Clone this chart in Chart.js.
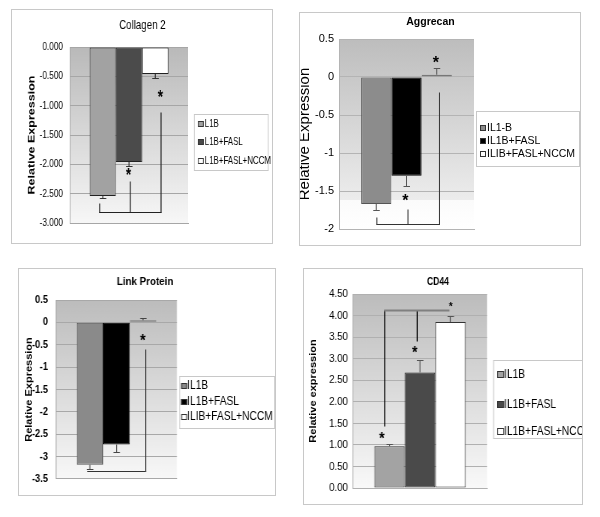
<!DOCTYPE html>
<html lang="en">
<head>
    <meta charset="UTF-8">
    <title>Relative Expression Panels</title>
    <script src="https://cdn.jsdelivr.net/npm/chart.js"></script>
    <style>
        body {
            margin: 0;
            background: #fff;
        }
        #page {
            position: relative;
            width: 600px;
            height: 517px;
        }
        .panel {
            position: absolute;
            box-sizing: border-box;
            border: 1px solid #c8c8c8;
            background: #fff;
            overflow: hidden;
        }
        .panel canvas {
            display: block;
            transform-origin: 0 0;
        }
    </style>
</head>
<body>
<div id="page">
    <div class="panel" style="left:11px; top:9px; width:262px; height:235px;"><canvas id="collagen"></canvas></div>
    <div class="panel" style="left:299px; top:12px; width:282px; height:234px;"><canvas id="aggrecan"></canvas></div>
    <div class="panel" style="left:18px; top:268px; width:258px; height:228px;"><canvas id="link"></canvas></div>
    <div class="panel" style="left:303px; top:268px; width:280px; height:237px;"><canvas id="cd44"></canvas></div>
</div>

<script>
    // Collagen 2
    const colLabels = ['L1B', 'L1B+FASL', 'L1B+FASL+NCCM'];
    const colValues = [-2.54, -1.96, -0.46];
    const colErrors = [0.04, 0.07, 0.07];
    const colTicks = [0, -0.5, -1, -1.5, -2, -2.5, -3];

    // Aggrecan
    const aggLabels = ['IL1-B', 'IL1B+FASL', 'ILIB+FASL+NCCM'];
    const aggValues = [-1.67, -1.30, 0.03];
    const aggErrors = [0.08, 0.13, 0.09];
    const aggTicks = [0.5, 0, -0.5, -1, -1.5, -2];

    // Link Protein
    const linkLabels = ['IL1B', 'IL1B+FASL', 'ILIB+FASL+NCCM'];
    const linkValues = [-3.18, -2.73, 0.05];
    const linkErrors = [0.10, 0.17, 0.04];
    const linkTicks = [0.5, 0, -0.5, -1, -1.5, -2, -2.5, -3, -3.5];

    // CD44
    const cdLabels = ['IL1B', 'IL1B+FASL', 'IL1B+FASL+NCCM'];
    const cdValues = [0.97, 2.68, 3.85];
    const cdErrors = [0.05, 0.28, 0.15];
    const cdTicks = [0, 0.5, 1, 1.5, 2, 2.5, 3, 3.5, 4, 4.5];

    const ARIAL = "'Liberation Sans', Arial, sans-serif";

    Chart.defaults.color = '#000';

    // gradient plot area, error bars, significance brackets, title and legend box
    // p.sx squeezes the panel sideways like the source figure; x sizes below are in screen px
    function decor(p) {
        const X = v => v / p.sx;
        return {
            id: 'decor',
            beforeDraw(chart) {
                const {ctx, chartArea: a} = chart;
                const g = ctx.createLinearGradient(0, a.top, 0, a.bottom);
                p.bg.forEach(s => g.addColorStop(s[0], s[1]));
                ctx.save();
                ctx.fillStyle = g;
                ctx.fillRect(a.left, a.top, a.right - a.left, a.bottom - a.top);
                ctx.restore();
            },
            afterDatasetsDraw(chart) {
                const ctx = chart.ctx;
                const y = chart.scales.y;
                const bars = chart.data.datasets.map((d, i) => chart.getDatasetMeta(i).data[0]);
                const w = bars[0].width;
                const x0 = bars[0].x - w / 2;
                const ux = u => x0 + u * w;
                const py = v => Math.round(y.getPixelForValue(v)) + 0.5;

                ctx.save();
                // error bars
                ctx.strokeStyle = p.errColor;
                bars.forEach((b, i) => {
                    const v = p.values[i];
                    const end = v < 0 ? v - p.errors[i] : v + p.errors[i];
                    ctx.lineWidth = X(1);
                    ctx.beginPath();
                    ctx.moveTo(b.x, y.getPixelForValue(v));
                    ctx.lineTo(b.x, py(end));
                    ctx.stroke();
                    ctx.lineWidth = 1;
                    ctx.beginPath();
                    ctx.moveTo(b.x - X(3), py(end));
                    ctx.lineTo(b.x + X(3.5), py(end));
                    ctx.stroke();
                });

                // significance bracket
                const br = p.bracket;
                ctx.strokeStyle = br.legColor;
                ctx.lineWidth = X(1);
                br.legs.forEach(l => {
                    ctx.beginPath();
                    ctx.moveTo(ux(l[0]), py(br.y));
                    ctx.lineTo(ux(l[0]), py(l[1]));
                    ctx.stroke();
                });
                ctx.strokeStyle = br.color;
                ctx.lineWidth = br.width;
                ctx.beginPath();
                ctx.moveTo(ux(br.from) - X(0.5), py(br.y));
                ctx.lineTo(ux(br.to) + X(0.5), py(br.y));
                ctx.stroke();

                ctx.fillStyle = '#000';
                ctx.textAlign = 'center';
                ctx.textBaseline = 'alphabetic';
                p.stars.forEach(s => {
                    ctx.font = 'bold ' + s[2] + 'px ' + ARIAL;
                    ctx.fillText('*', ux(s[0]), y.getPixelForValue(s[1]) + 0.575 * s[2]);
                });
                ctx.restore();
            },
            afterDraw(chart) {
                const ctx = chart.ctx;
                const L = p.legend;
                ctx.save();
                ctx.fillStyle = '#000';
                ctx.font = p.titleFont;
                ctx.textAlign = 'center';
                ctx.textBaseline = 'middle';
                ctx.fillText(p.title, X(p.titlePos[0]), p.titlePos[1]);

                ctx.strokeStyle = '#c8c8c8';
                ctx.lineWidth = 1;
                ctx.strokeRect(X(L.x + 0.5), L.y + 0.5, X(L.w), L.h);
                ctx.font = L.font;
                ctx.textAlign = 'left';
                p.labels.forEach((t, i) => {
                    const yy = Math.round(L.items[i]);
                    const top = yy - Math.round(L.size / 2);
                    ctx.fillStyle = p.colors[i];
                    ctx.fillRect(X(L.sx), top, X(L.size), L.size);
                    ctx.strokeStyle = '#333';
                    ctx.lineWidth = 1;
                    ctx.strokeRect(X(L.sx + 0.5), top + 0.5, X(L.size - 1), L.size - 1);
                    ctx.fillStyle = '#000';
                    ctx.fillText(t, X(L.tx), yy);
                });
                ctx.restore();
            }
        };
    }

    function drawPanel(id, p) {
        const X = v => v / p.sx;
        const canvas = document.getElementById(id);
        canvas.width = Math.round(X(p.w));
        canvas.height = p.h;
        canvas.style.transform = 'scaleX(' + (p.w / canvas.width) + ')';
        const lh = p.yTitleFont.size * p.yTitleFont.lineHeight;

        new Chart(canvas, {
            type: 'bar',
            data: {
                labels: [p.title],
                datasets: p.labels.map((lab, i) => ({
                    label: lab,
                    data: [p.values[i]],
                    backgroundColor: p.colors[i],
                    borderColor: p.borders[i],
                    borderWidth: 1,
                    borderSkipped: false,
                    categoryPercentage: p.catPct,
                    barPercentage: 1
                }))
            },
            options: {
                responsive: false,
                animation: false,
                devicePixelRatio: 1,
                layout: { padding: { left: 0, right: X(p.pad[1]), top: p.pad[0], bottom: p.pad[2] } },
                plugins: {
                    legend: { display: false },
                    title: { display: false },
                    tooltip: { enabled: false }
                },
                scales: {
                    x: {
                        grid: { display: false },
                        ticks: { display: false },
                        border: { color: p.axisColor },
                        afterFit: s => { s.height = 0; }
                    },
                    y: {
                        min: Math.min(...p.ticks),
                        max: Math.max(...p.ticks),
                        afterBuildTicks: s => { s.ticks = p.ticks.map(v => ({ value: v })); },
                        afterFit: s => { s.width = X(p.yWidth); },
                        grid: { color: p.gridColor, drawTicks: false },
                        border: { color: p.axisColor },
                        ticks: {
                            padding: X(p.tickPad),
                            font: p.tickFont,
                            callback: v => p.decimals ? v.toFixed(p.decimals) : String(Number(v.toFixed(2)))
                        },
                        title: {
                            display: true,
                            text: p.yTitle,
                            font: p.yTitleFont,
                            padding: { top: X(p.yTitleX) - lh / 2, bottom: 0 }
                        }
                    }
                }
            },
            plugins: [decor(p)]
        });
    }

    drawPanel('collagen', {
        w: 260, h: 233, sx: 0.75,
        title: 'Collagen 2', titleFont: '13px ' + ARIAL, titlePos: [130.5, 15],
        labels: colLabels, values: colValues, errors: colErrors, ticks: colTicks, decimals: 3,
        colors: ['#a2a2a2', '#4b4b4b', '#ffffff'], borders: ['#222', '#222', '#222'],
        catPct: 0.667, pad: [37, 84, 20], yWidth: 58,
        gridColor: '#a6a6a6', axisColor: '#a6a6a6', bg: [[0, '#b9b9b9'], [1, '#f7f7f7']],
        tickFont: { family: ARIAL, size: 11 }, tickPad: 7,
        yTitle: 'Relative Expression', yTitleFont: { family: ARIAL, size: 12.5, weight: 'bold', lineHeight: 1.2 }, yTitleX: 20,
        errColor: '#333',
        bracket: { y: -2.81, from: 0.38, to: 2.72, color: '#222', width: 1, legColor: '#222',
                   legs: [[0.38, -2.66], [1.55, -2.28], [2.72, -1.10]] },
        stars: [[1.48, -2.10, 18], [2.69, -0.78, 18]],
        legend: { x: 182, y: 104, w: 74, h: 56, sx: 186, tx: 193, size: 6, items: [114, 132, 151], font: '10.5px ' + ARIAL }
    });

    drawPanel('aggrecan', {
        w: 280, h: 232, sx: 1,
        title: 'Aggrecan', titleFont: 'bold 10.5px ' + ARIAL, titlePos: [130.5, 9],
        labels: aggLabels, values: aggValues, errors: aggErrors, ticks: aggTicks, decimals: 0,
        colors: ['#8c8c8c', '#000000', '#ffffff'], borders: ['#555', '#000', '#777'],
        catPct: 0.672, pad: [26, 106, 16], yWidth: 39,
        gridColor: '#b4b4b4', axisColor: '#b4b4b4',
        bg: [[0, '#bdbdbd'], [0.845, '#ececec'], [0.85, '#fbfbfb'], [1, '#ffffff']],
        tickFont: { family: ARIAL, size: 11 }, tickPad: 5,
        yTitle: 'Relative Expression', yTitleFont: { family: ARIAL, size: 15, lineHeight: 1 }, yTitleX: 4.5,
        errColor: '#555',
        bracket: { y: -1.94, from: 0.52, to: 2.59, color: '#333', width: 1, legColor: '#333',
                   legs: [[0.52, -1.84], [1.55, -1.74], [2.59, -0.2]] },
        stars: [[1.46, -1.58, 16], [2.47, 0.24, 16]],
        legend: { x: 176, y: 98, w: 103, h: 55, sx: 180, tx: 187, size: 6, items: [114.5, 127.5, 140.5], font: '10.5px ' + ARIAL }
    });

    drawPanel('link', {
        w: 256, h: 226, sx: 0.85,
        title: 'Link Protein', titleFont: 'bold 11.5px ' + ARIAL, titlePos: [126, 13],
        labels: linkLabels, values: linkValues, errors: linkErrors, ticks: linkTicks, decimals: 0,
        colors: ['#8a8a8a', '#000000', '#ffffff'], borders: ['#555', '#000', '#777'],
        catPct: 0.66, pad: [31, 98, 10], yWidth: 37,
        gridColor: '#a8a8a8', axisColor: '#a8a8a8', bg: [[0, '#bcbcbc'], [1, '#f8f8f8']],
        tickFont: { family: ARIAL, size: 11, weight: 'bold' }, tickPad: 8,
        yTitle: 'Relative Expression', yTitleFont: { family: ARIAL, size: 11, weight: 'bold', lineHeight: 1.2 }, yTitleX: 10,
        errColor: '#444',
        bracket: { y: -3.32, from: 0.42, to: 2.59, color: '#333', width: 1, legColor: '#333',
                   legs: [[2.59, -0.6]] },
        stars: [[2.49, -0.30, 17]],
        legend: { x: 160, y: 107, w: 95, h: 52, sx: 162, tx: 168, size: 6, items: [117, 132.5, 148], font: '12px ' + ARIAL }
    });

    drawPanel('cd44', {
        w: 278, h: 235, sx: 0.85,
        title: 'CD44', titleFont: 'bold 10px ' + ARIAL, titlePos: [134, 13],
        labels: cdLabels, values: cdValues, errors: cdErrors, ticks: cdTicks, decimals: 2,
        colors: ['#a3a3a3', '#4a4a4a', '#ffffff'], borders: ['#333', '#222', '#333'],
        catPct: 0.683, pad: [25, 95, 16], yWidth: 49,
        gridColor: '#b0b0b0', axisColor: '#b0b0b0', bg: [[0, '#bcbcbc'], [1, '#f9f9f9']],
        tickFont: { family: ARIAL, size: 11.5 }, tickPad: 5,
        yTitle: 'Relative expression', yTitleFont: { family: ARIAL, size: 11, weight: 'bold', lineHeight: 1.2 }, yTitleX: 9,
        errColor: '#555',
        bracket: { y: 4.12, from: 0.34, to: 2.45, color: '#808080', width: 2, legColor: '#000',
                   legs: [[0.34, 1.43], [1.41, 3.42]] },
        stars: [[0.25, 1.24, 17], [1.33, 3.25, 17], [2.51, 4.28, 11]],
        legend: { x: 189, y: 91, w: 89, h: 78, sx: 193, tx: 200, size: 7, items: [105.5, 135.5, 163], font: '12px ' + ARIAL }
    });
</script>
</body>
</html>
